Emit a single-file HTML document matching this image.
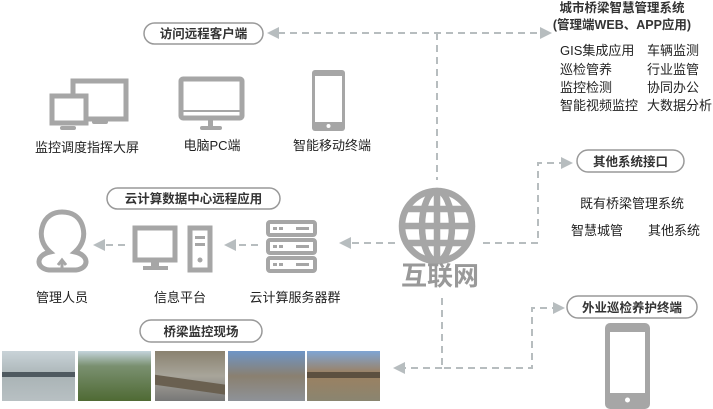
<!DOCTYPE html><html><head><meta charset="utf-8"><style>
body{margin:0;background:#fff;width:713px;height:409px;overflow:hidden}
svg{display:block;font-family:"Liberation Sans","Noto Sans CJK SC",sans-serif}
.p{fill:#fff;stroke:#999;stroke-width:1.5}
.pt{font-size:12.5px;font-weight:bold;fill:#333;text-anchor:middle}
.t{font-size:13px;fill:#222}
.c{text-anchor:middle}
.d{stroke:#b7bdbf;stroke-width:2;stroke-dasharray:7,5;fill:none}
.a{fill:#b7bdbf}
.g{fill:#a6a6a6}
.gs{stroke:#a6a6a6;fill:none}
</style></head><body>
<svg width="713" height="409" viewBox="0 0 713 409">
<path class="d" d="M278 33H538M437 33V180"/>
<polygon class="a" points="267,33 279,27 279,39"/>
<polygon class="a" points="552,33 540,27 540,39"/>
<path class="d" d="M566 163H538V243H478M395 243H352"/>
<polygon class="a" points="573,163 561,157 561,169"/>
<polygon class="a" points="339,243 351,237 351,249"/>
<path class="d" d="M442 298V368H532V308H558"/>
<path class="d" d="M442 368H405"/>
<polygon class="a" points="393,368 405,362 405,374"/>
<polygon class="a" points="565,308 553,302 553,314"/>
<path class="d" d="M125 245H105M258 245H236"/>
<polygon class="a" points="93,245 105,239 105,251"/>
<polygon class="a" points="224,245 236,239 236,251"/>

<rect class="p" x="144" y="23" width="119" height="21" rx="10.5"/><text class="pt" x="203.5" y="38">访问远程客户端</text>
<rect class="p" x="107" y="188" width="173" height="21" rx="10.5"/><text class="pt" x="193.5" y="203">云计算数据中心远程应用</text>
<rect class="p" x="140" y="320" width="122" height="22" rx="11"/><text class="pt" x="201" y="336">桥梁监控现场</text>
<rect class="p" x="577" y="150" width="107" height="22" rx="11"/><text class="pt" x="630.5" y="166">其他系统接口</text>
<rect class="p" x="567" y="296" width="130" height="22" rx="11"/><text class="pt" x="632" y="312">外业巡检养护终端</text>

<text class="pt" x="622" y="12" style="font-size:12.5px">城市桥梁智慧管理系统</text>
<text class="pt" x="622" y="29" style="font-size:12.5px">(管理端WEB、APP应用)</text>
<text class="t" x="560" y="55">GIS集成应用</text><text class="t" x="647" y="55">车辆监测</text>
<text class="t" x="560" y="74">巡检管养</text><text class="t" x="647" y="74">行业监管</text>
<text class="t" x="560" y="92">监控检测</text><text class="t" x="647" y="92">协同办公</text>
<text class="t" x="560" y="110">智能视频监控</text><text class="t" x="647" y="110">大数据分析</text>
<text class="t c" x="632" y="208">既有桥梁管理系统</text>
<text class="t" x="571" y="235">智慧城管</text><text class="t" x="648" y="235">其他系统</text>

<rect class="gs" x="73" y="81" width="53" height="38" stroke-width="5"/>
<rect x="52" y="96" width="34" height="27" fill="#fff"/>
<rect class="gs" x="52" y="96" width="34" height="27" stroke-width="5"/>
<rect class="g" x="60" y="126" width="16" height="4" rx="2"/><rect class="g" x="92" y="120" width="16" height="4" rx="2"/>
<rect class="gs" x="181" y="79" width="61" height="39" stroke-width="5" rx="2"/>
<rect class="g" x="181" y="110" width="61" height="2"/>
<rect class="g" x="208" y="120" width="5" height="6"/><rect class="g" x="200" y="126" width="22" height="4" rx="2"/>
<rect class="g" x="312" y="70" width="33" height="61" rx="3"/><rect x="315" y="76" width="27" height="46" fill="#fff"/><circle cx="328.5" cy="126" r="2" fill="#fff"/>
<text class="t c" x="87" y="152">监控调度指挥大屏</text>
<text class="t c" x="212" y="150">电脑PC端</text>
<text class="t c" x="332" y="150">智能移动终端</text>

<path class="gs" stroke-width="5" d="M49 270 C35 268 36 255 50 252 C42 245 40 236 42 228 C45 215 55 212 62 212 C70 212 80 215 83 228 C85 236 83 245 75 252 C89 255 90 268 76 270 Z"/>
<path class="gs" stroke-width="3" d="M62 272V262M58 265L62 260L66 265"/>
<rect class="gs" x="135" y="228" width="40" height="32" stroke-width="5"/>
<rect class="g" x="151" y="262" width="8" height="5"/><rect class="g" x="143" y="266" width="25" height="4"/>
<rect class="gs" x="190" y="228" width="20" height="42" stroke-width="5"/>
<rect class="g" x="195" y="236" width="10" height="3"/><rect class="g" x="195" y="243" width="10" height="3"/><circle class="g" cx="200" cy="260" r="2.5"/>
<g class="gs" stroke-width="4"><rect x="268" y="222" width="47" height="13" rx="2"/><rect x="268" y="240" width="47" height="13" rx="2"/><rect x="268" y="258" width="47" height="13" rx="2"/></g>
<g class="g"><rect x="273" y="227" width="4" height="3"/><rect x="279" y="227" width="4" height="3"/><rect x="296" y="227" width="13" height="3"/><rect x="273" y="245" width="4" height="3"/><rect x="279" y="245" width="4" height="3"/><rect x="296" y="245" width="13" height="3"/><rect x="273" y="263" width="4" height="3"/><rect x="279" y="263" width="4" height="3"/><rect x="296" y="263" width="13" height="3"/></g>
<text class="t c" x="62" y="302">管理人员</text>
<text class="t c" x="180" y="302">信息平台</text>
<text class="t c" x="295" y="302">云计算服务器群</text>

<g class="gs" stroke-width="6.5"><circle cx="437" cy="226" r="35"/><ellipse cx="437" cy="226" rx="15" ry="35"/><path d="M437 191V261M402 226H472M406 209H468M406 243H468"/></g>
<text x="440" y="285" style="font-size:26px;font-weight:bold;fill:#999;text-anchor:middle">互联网</text>

<rect class="g" x="605" y="323" width="45" height="86" rx="5"/><rect x="610" y="332" width="35" height="61" fill="#fff"/><circle cx="627.5" cy="400" r="2.5" fill="#fff"/>

<defs>
<linearGradient id="s1" x1="0" y1="0" x2="0" y2="1"><stop offset="0" stop-color="#c9d3d8"/><stop offset=".5" stop-color="#aab4b6"/><stop offset="1" stop-color="#b8c0c3"/></linearGradient>
<linearGradient id="s2" x1="0" y1="0" x2="0" y2="1"><stop offset="0" stop-color="#c4d4dc"/><stop offset=".3" stop-color="#7a9070"/><stop offset="1" stop-color="#4f6a34"/></linearGradient>
<linearGradient id="s3" x1="0" y1="0" x2="0" y2="1"><stop offset="0" stop-color="#8a8270"/><stop offset=".5" stop-color="#a8a59a"/><stop offset="1" stop-color="#777"/></linearGradient>
<linearGradient id="s4" x1="0" y1="0" x2="0" y2="1"><stop offset="0" stop-color="#6e95c6"/><stop offset=".5" stop-color="#8a8070"/><stop offset="1" stop-color="#8e9298"/></linearGradient>
<linearGradient id="s5" x1="0" y1="0" x2="0" y2="1"><stop offset="0" stop-color="#7fa5d4"/><stop offset=".45" stop-color="#9c8060"/><stop offset="1" stop-color="#8a8570"/></linearGradient>
</defs>
<rect x="2" y="351" width="73" height="50" fill="url(#s1)"/><rect x="2" y="372" width="73" height="5" fill="#4f5a60"/>
<rect x="78" y="351" width="73" height="50" fill="url(#s2)"/>
<rect x="155" y="351" width="70" height="50" fill="url(#s3)"/><rect x="155" y="353" width="70" height="10" fill="#6a6050" transform="skewY(8)"/>
<rect x="228" y="351" width="77" height="50" fill="url(#s4)"/>
<rect x="307" y="351" width="73" height="50" fill="url(#s5)"/><rect x="307" y="372" width="73" height="6" fill="#5d5040"/>
</svg>
</body></html>
